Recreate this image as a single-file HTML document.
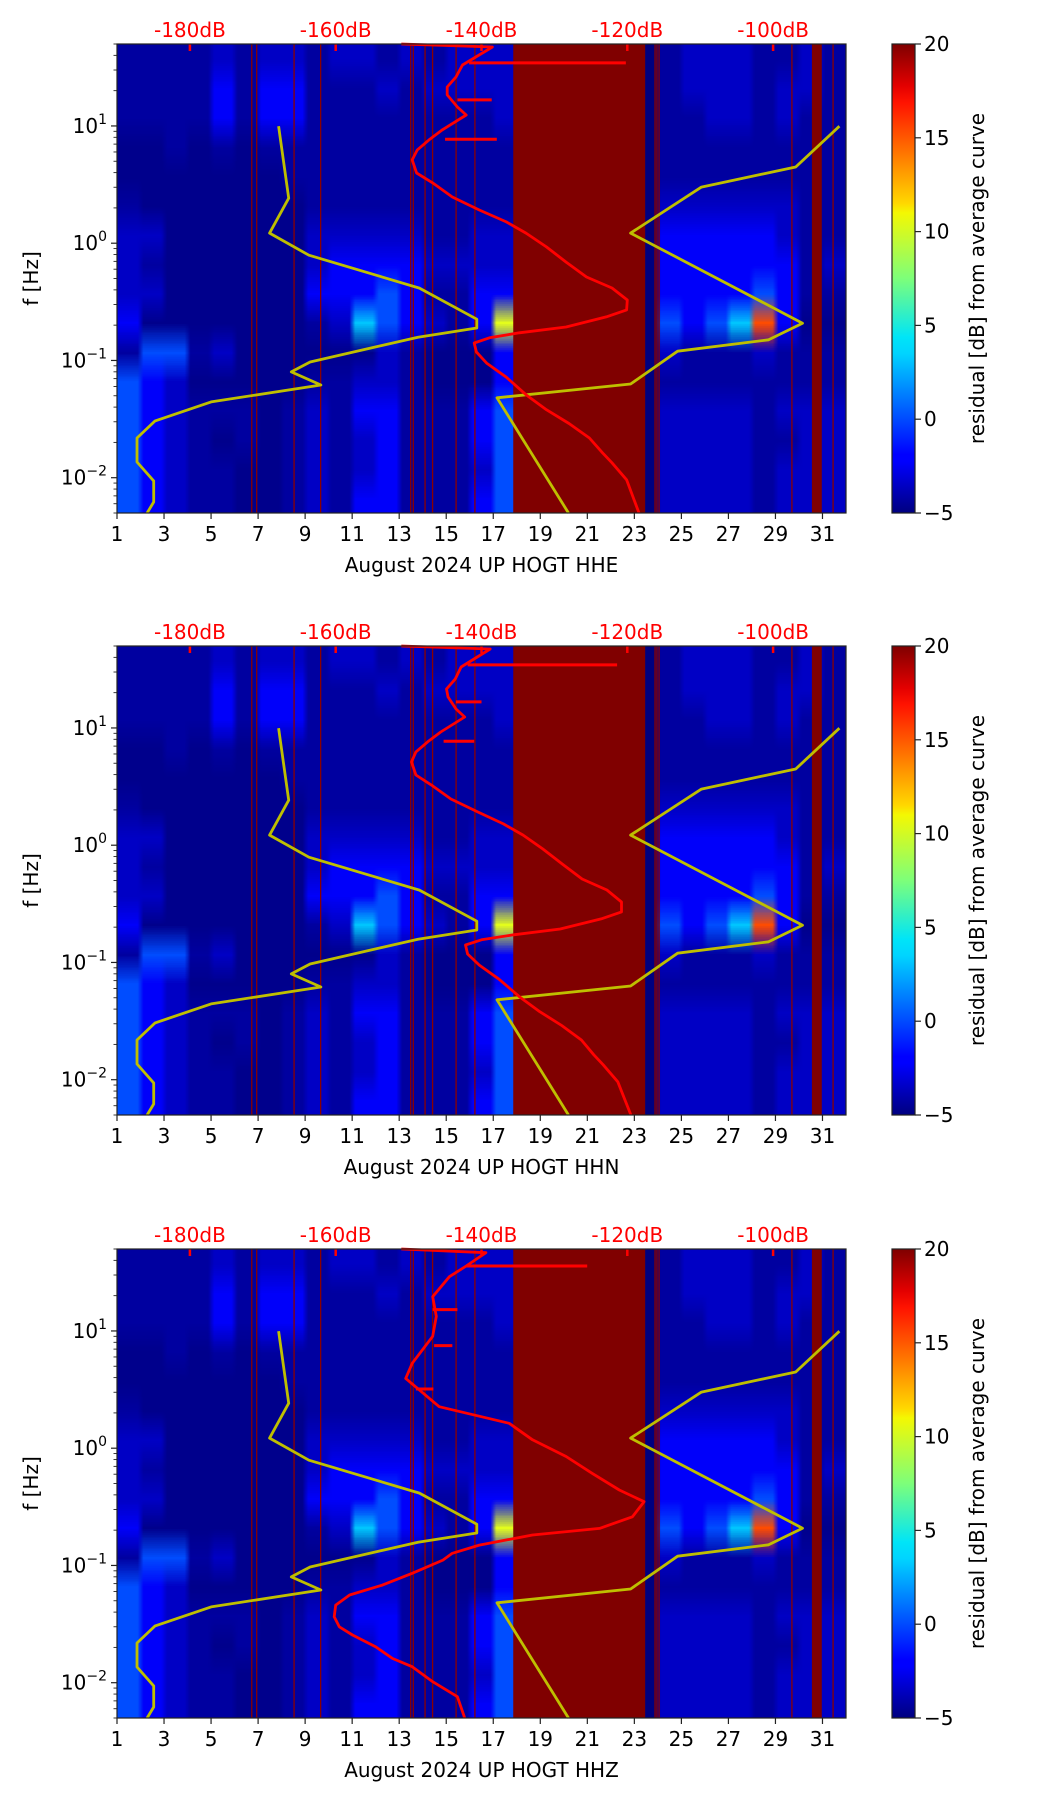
<!DOCTYPE html>
<html><head><meta charset="utf-8">
<style>
html,body{margin:0;padding:0;background:#fff;}
#wrap{position:relative;width:1052px;height:1806px;overflow:hidden;}
#cv,#sv{position:absolute;left:0;top:0;}
text{font-family:"DejaVu Sans","Liberation Sans",sans-serif;}
</style></head>
<body>
<div id="wrap">
<canvas id="cv" width="1052" height="1806"></canvas>
<svg id="sv" width="1052" height="1806" xmlns="http://www.w3.org/2000/svg">
<defs>
<linearGradient id="jet" x1="0" y1="1" x2="0" y2="0">
<stop offset="0" stop-color="#00007f"/><stop offset="0.11" stop-color="#0000ff"/><stop offset="0.125" stop-color="#0000ff"/>
<stop offset="0.34" stop-color="#00d4ff"/><stop offset="0.375" stop-color="#00e5f7"/><stop offset="0.5" stop-color="#7dff7a"/>
<stop offset="0.64" stop-color="#f4f802"/><stop offset="0.66" stop-color="#ffd800"/><stop offset="0.875" stop-color="#ff1300"/>
<stop offset="0.91" stop-color="#e40000"/><stop offset="1" stop-color="#7f0000"/>
</linearGradient>
</defs>
</svg>
</div>
<script>
// ---------- data ----------
const panelNames = ["HHE","HHN","HHZ"];
const dayTicks = [1,3,5,7,9,11,13,15,17,19,21,23,25,27,29,31];
const freqTickExp = [-2,-1,0,1];
const dbTicks = [-180,-160,-140,-120,-100];
const cbarTicks = [-5,0,5,10,15,20];
const levels = [-5,-4.7,-4.2,-3.3,-2,0,3,6,10,15];
// 16 frequency bands (0.25 decade each from 50 Hz down), 31 day columns
const bands = [
"2222323323323233300000023332232",
"2222424422232333300000023332332",
"2222424422222222300000022332322",
"1121212222222222200000022222222",
"1111111222222222200000022222222",
"2111111122222222200000033333322",
"3311111133333223300000044444322",
"3211111134444333300000044444423",
"3311111144454224400000044445422",
"4111111123654324800000054569411",
"2552311111132111400000032223222",
"5431111122332111400000022222222",
"5432221232442224500000033332333",
"5432121232342224500000033332233",
"5432211232342223500000033332333",
"5432211232442224500000033332333"
];
const gapStart = [17.85, 30.55];
const gapEnd = [23.46, 30.97];
const thinLineDays = [6.73,6.94,8.53,9.66,13.49,13.6,14.1,14.42,15.42,16.22,23.88,23.96,24.05,29.7,31.45];
// yellow polylines (day, Hz)
const yelADay = [2.28,2.56,2.56,1.85,1.85,2.62,5.0,9.67,8.41,9.21,13.8,16.3,16.3,13.86,9.16,7.49,8.3,7.87];
const yelAF = [0.005,0.0062,0.0094,0.0136,0.0218,0.0305,0.0443,0.0618,0.0798,0.097,0.158,0.189,0.225,0.414,0.79,1.22,2.42,9.96];
const yelBDay = [20.2,17.16,22.84,24.84,28.71,30.15,22.84,25.85,29.86,31.72];
const yelBF = [0.005,0.048,0.063,0.12,0.15,0.208,1.22,3.01,4.47,9.96];
// red curves (dB, Hz)
const red1DB = [-151,-138.5,-142.6,-143.5,-144.7,-144.7,-143.3,-142.1,-145.4,-147.2,-148.8,-149.5,-148.9,-146.7,-144.0,-140.3,-136.6,-133.9,-131.1,-128.4,-125.6,-122.1,-120,-120.1,-122.9,-128.4,-134.8,-138.9,-141.0,-140.7,-139.3,-136.6,-133.9,-131.1,-128.0,-125.2,-123.4,-122.1,-120.1,-118.4];
const red1F = [50,47.1,33.1,26.2,21.5,18.4,14.5,12.4,9.24,7.6,6.25,5.13,3.97,3.27,2.48,1.92,1.52,1.22,0.93,0.69,0.515,0.415,0.328,0.27,0.235,0.193,0.172,0.156,0.141,0.118,0.095,0.072,0.051,0.038,0.029,0.0218,0.0163,0.0134,0.0096,0.005];
const red2DB = [-151,-138.8,-142.8,-143.6,-144.8,-144.6,-143.5,-142.3,-145.6,-147.4,-149.0,-149.6,-149.0,-146.9,-144.2,-140.5,-137.0,-134.3,-131.6,-128.9,-126.2,-122.8,-120.8,-120.8,-123.6,-129.2,-135.6,-140.0,-142.2,-141.9,-140.3,-137.6,-134.8,-132.0,-129.0,-126.3,-124.6,-123.3,-121.3,-119.5];
const red2F = red1F;
const red3DB = [-151,-139.4,-142.1,-144.4,-146.7,-146.2,-146.7,-149.5,-150.4,-148.5,-145.8,-136.2,-133.0,-128.4,-124.8,-121.1,-117.7,-119.3,-123.8,-133.0,-140.3,-144.0,-145.3,-149.5,-153.6,-158.1,-160.0,-160.2,-159.5,-157.7,-154.5,-152.2,-149.5,-146.7,-143.3,-142.3];
const red3F = [50,46.5,35.8,29.0,19.6,13.3,9.0,5.3,3.94,3.13,2.26,1.63,1.18,0.85,0.61,0.44,0.35,0.26,0.207,0.182,0.149,0.127,0.111,0.0857,0.068,0.056,0.0459,0.0365,0.030,0.0255,0.0202,0.0161,0.0137,0.0102,0.0076,0.005];
const spike1F = [34.5,16.7,7.7], spike1A = [-141.7,-143.3,-145.0], spike1B = [-120.2,-138.6,-137.9];
const spike2F = [34.5,16.7,7.7], spike2A = [-141.9,-143.5,-145.2], spike2B = [-121.4,-140.0,-141.0];
const spike3F = [35.8,15.2,7.5,3.2], spike3A = [-142.1,-146.7,-146.5,-149.0], spike3B = [-125.5,-143.3,-144.0,-146.6];
const redDB = [red1DB,red2DB,red3DB], redF = [red1F,red2F,red3F];
const spF=[spike1F,spike2F,spike3F], spA=[spike1A,spike2A,spike3A], spB=[spike1B,spike2B,spike3B];

// ---------- layout ----------
const X0=117, X1=846, PH=469;
const tops=[44,646,1249];
const CBX=892, CBW=23;
const FS=20;
function xDay(d){return X0+(d-1)*(X1-X0)/31;}
function xDB(db){return X0+(db+190)*(X1-X0)/100;}
function yF(T,f){return T+(Math.log10(50)-Math.log10(f))/4*PH;}
function yCb(T,v){return T+PH-(v+5)/25*PH;}
function jet(v){const t=Math.max(0,Math.min(1,(v+5)/25));const c=x=>Math.round(255*Math.max(0,Math.min(1,1.5-Math.abs(x))));return [c(4*t-3),c(4*t-2),c(4*t-1)];}

const svg=document.getElementById('sv');
const NS='http://www.w3.org/2000/svg';
function mk(tag,attrs,parent){const e=document.createElementNS(NS,tag);for(const k in attrs)e.setAttribute(k,attrs[k]);(parent||svg).appendChild(e);return e;}

// heatmap
const cv=document.getElementById('cv');const ctx=cv.getContext('2d');
const off=document.createElement('canvas');off.width=31;off.height=16;
const octx=off.getContext('2d');const img=octx.createImageData(31,16);
for(let b=0;b<16;b++)for(let d=0;d<31;d++){const v=levels[+bands[b][d]];const c=jet(v);const i=(b*31+d)*4;img.data[i]=c[0];img.data[i+1]=c[1];img.data[i+2]=c[2];img.data[i+3]=255;}
octx.putImageData(img,0,0);
const mid=document.createElement('canvas');mid.width=31*4;mid.height=16;
const mctx=mid.getContext('2d');mctx.imageSmoothingEnabled=false;mctx.drawImage(off,0,0,31*4,16);
ctx.imageSmoothingEnabled=true;
tops.forEach(T=>{ctx.drawImage(mid,X0,T,X1-X0,PH);});

tops.forEach((T,p)=>{
  const g=mk('g',{});
  
  
  for(let i=0;i<gapStart.length;i++){
    const r=mk('rect',{x:xDay(gapStart[i]),y:T,width:xDay(gapEnd[i])-xDay(gapStart[i]),height:PH,fill:'#800000'},g);
    
    
  }
  thinLineDays.forEach(d=>{
    const l=mk('line',{x1:xDay(d),x2:xDay(d),y1:T,y2:T+PH,stroke:'#8a0000','stroke-width':1.3},g);
    
    
  });
  [[yelADay,yelAF],[yelBDay,yelBF]].forEach(([ds,fs])=>{
    const pts=ds.map((d,i)=>xDay(d).toFixed(1)+','+yF(T,fs[i]).toFixed(1)).join(' ');
    const pl=mk('polyline',{points:pts,fill:'none',stroke:'#bfbf00','stroke-width':2.8,'stroke-linejoin':'round'},g);
    
    
  });
  dbTicks.forEach(db=>{
    const l=mk('line',{x1:xDB(db),x2:xDB(db),y1:T,y2:T+7,stroke:'#ff0000','stroke-width':2.5},g);
    
    
  });
  const rp=redDB[p].map((db,i)=>xDB(db).toFixed(1)+','+yF(T,redF[p][i]).toFixed(1)).join(' ');
  const rc=mk('polyline',{points:rp,fill:'none',stroke:'#ff0000','stroke-width':2.8,'stroke-linejoin':'round'},g);
  
  
  spF[p].forEach((f,i)=>{
    const l=mk('line',{x1:xDB(spA[p][i]),x2:xDB(spB[p][i]),y1:yF(T,f),y2:yF(T,f),stroke:'#ff0000','stroke-width':3},g);
    
    
  });
  const fr=mk('rect',{x:X0,y:T,width:X1-X0,height:PH,fill:'none',stroke:'#222','stroke-width':1.2},g);
  
  
  dayTicks.forEach(d=>{
    const x=xDay(d);
    mk('line',{x1:x,x2:x,y1:T+PH,y2:T+PH+6,stroke:'#222','stroke-width':1.2},g);
    const t=mk('text',{x:x,y:T+PH+28,'font-size':FS,'text-anchor':'middle',fill:'#000'},g);
    t.textContent=d;
    
    
  });
  const xl=mk('text',{x:(X0+X1)/2,y:T+PH+59,'font-size':FS,'text-anchor':'middle',fill:'#000'},g);
  xl.textContent='August 2024 UP HOGT  '+panelNames[p];
  xl.setAttribute('xml:space','preserve');
  
  
  for(let e=-3;e<=1;e++){
    for(let m=1;m<10;m++){
      const f=m*Math.pow(10,e); if(f<0.005||f>50)continue;
      const y=yF(T,f);
      mk('line',{x1:X0-(m===1?6:3.5),x2:X0,y1:y,y2:y,stroke:'#222','stroke-width':m===1?1.2:0.9},g);
    }
  }
  freqTickExp.forEach(e=>{
    const y=yF(T,Math.pow(10,e));
    const t=mk('text',{x:X0-10,y:y+7,'font-size':FS,'text-anchor':'end',fill:'#000'},g);
    const a=mk('tspan',{},t);a.textContent='10';
    const b=mk('tspan',{dy:-9,'font-size':14},t);b.textContent=(e<0?'\u2212':'')+Math.abs(e);
    
    
  });
  const yl=mk('text',{x:0,y:0,'font-size':FS,'text-anchor':'middle',fill:'#000',transform:'translate(38,'+(T+PH/2)+') rotate(-90)'},g);
  yl.textContent='f [Hz]';
  
  
  dbTicks.forEach(db=>{
    const t=mk('text',{x:xDB(db),y:T-7,'font-size':FS,'text-anchor':'middle',fill:'#ff0000'},g);
    t.textContent=db+'dB';
    
    
  });
  const cb=mk('rect',{x:CBX,y:T,width:CBW,height:PH,fill:'url(#jet)',stroke:'#222','stroke-width':1.2},g);
  
  
  cbarTicks.forEach(v=>{
    const y=yCb(T,v);
    mk('line',{x1:CBX+CBW,x2:CBX+CBW+6,y1:y,y2:y,stroke:'#222','stroke-width':1.2},g);
    const t=mk('text',{x:CBX+CBW+9,y:y+7,'font-size':FS,fill:'#000'},g);
    t.textContent=(v<0?'\u2212':'')+Math.abs(v);
    
    
  });
  const cl=mk('text',{x:0,y:0,'font-size':FS,'text-anchor':'middle',fill:'#000',transform:'translate(984,'+(T+PH/2)+') rotate(-90)'},g);
  cl.textContent='residual [dB] from average curve';
  
  
});
</script>
</body></html>
